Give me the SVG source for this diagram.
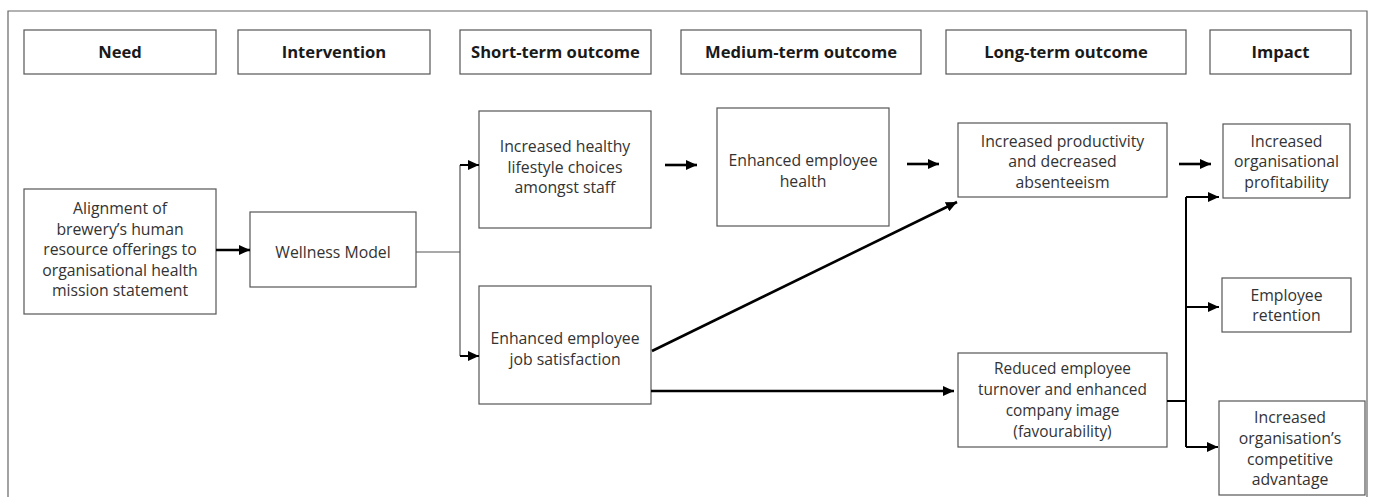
<svg xmlns="http://www.w3.org/2000/svg" width="1375" height="497" viewBox="0 0 1375 497">
<style>
.box{fill:#fff;stroke:#555;stroke-width:1.2}
.hd{font-family:"Open Sans","Liberation Sans",sans-serif;font-weight:bold;font-size:16.6px;fill:#1a1a1a;text-anchor:middle}
.tx{font-family:"Open Sans","Liberation Sans",sans-serif;font-size:15.8px;fill:#333;text-anchor:middle}
.cn{font-size:15.4px}
.thin{fill:none;stroke:#555;stroke-width:1.2}
.thick{fill:none;stroke:#000;stroke-width:2.6}
.mid{fill:none;stroke:#000;stroke-width:2}
</style>
<defs>
<marker id="ah" markerUnits="userSpaceOnUse" markerWidth="12" markerHeight="10" refX="11" refY="5" orient="auto">
<path d="M0,0 L11,5 L0,10 Z" fill="#000"/>
</marker>
</defs>
<rect width="1375" height="497" fill="#fff"/>
<path d="M8,497 V11 H1367 V497" fill="none" stroke="#666" stroke-width="1.2"/>
<g id="h-need"><rect class="box" x="24" y="30" width="192" height="44"/><text class="hd" x="120" y="58">Need</text></g>
<g id="h-intervention"><rect class="box" x="238" y="30" width="192" height="44"/><text class="hd" x="334" y="58">Intervention</text></g>
<g id="h-short"><rect class="box" x="460" y="30" width="191" height="44"/><text class="hd" x="555.5" y="58">Short-term outcome</text></g>
<g id="h-medium"><rect class="box" x="681" y="30" width="240" height="44"/><text class="hd" x="801" y="58">Medium-term outcome</text></g>
<g id="h-long"><rect class="box" x="946" y="30" width="240" height="44"/><text class="hd" x="1066" y="58">Long-term outcome</text></g>
<g id="h-impact"><rect class="box" x="1210" y="30" width="141" height="44"/><text class="hd" x="1280.5" y="58">Impact</text></g>

<g id="n-alignment"><rect class="box" x="24" y="189" width="192" height="125"/>
<text class="tx" x="120" y="214">Alignment of</text>
<text class="tx" x="120" y="234.5">brewery’s human</text>
<text class="tx" x="120" y="255">resource offerings to</text>
<text class="tx" x="120" y="275.5">organisational health</text>
<text class="tx" x="120" y="296">mission statement</text></g>
<g id="n-wellness"><rect class="box" x="250" y="212" width="166" height="75"/>
<text class="tx" x="333" y="258">Wellness Model</text></g>
<g id="n-lifestyle"><rect class="box" x="479" y="111" width="172" height="117"/>
<text class="tx" x="565" y="152">Increased healthy</text>
<text class="tx" x="565" y="172.5">lifestyle choices</text>
<text class="tx" x="565" y="193">amongst staff</text></g>
<g id="n-satisfaction"><rect class="box" x="479" y="286" width="172" height="118"/>
<text class="tx" x="565" y="344">Enhanced employee</text>
<text class="tx" x="565" y="364.5">job satisfaction</text></g>
<g id="n-health"><rect class="box" x="717" y="108" width="172" height="118"/>
<text class="tx" x="803" y="166">Enhanced employee</text>
<text class="tx" x="803" y="186.5">health</text></g>
<g id="n-productivity"><rect class="box" x="958" y="123" width="209" height="74"/>
<text class="tx" x="1062.5" y="146.5">Increased productivity</text>
<text class="tx" x="1062.5" y="167">and decreased</text>
<text class="tx" x="1062.5" y="187.5">absenteeism</text></g>
<g id="n-turnover"><rect class="box" x="958" y="353" width="209" height="94"/>
<text class="tx cn" x="1062.5" y="374">Reduced employee</text>
<text class="tx cn" x="1062.5" y="395">turnover and enhanced</text>
<text class="tx cn" x="1062.5" y="416">company image</text>
<text class="tx cn" x="1062.5" y="437">(favourability)</text></g>
<g id="n-profitability"><rect class="box" x="1223" y="124" width="127" height="74"/>
<text class="tx" x="1286.5" y="146.5">Increased</text>
<text class="tx" x="1286.5" y="167">organisational</text>
<text class="tx" x="1286.5" y="187.5">profitability</text></g>
<g id="n-retention"><rect class="box" x="1222" y="278" width="129" height="54"/>
<text class="tx" x="1286.5" y="300.5">Employee</text>
<text class="tx" x="1286.5" y="321">retention</text></g>
<g id="n-competitive"><rect class="box" x="1219" y="401" width="146" height="94"/>
<text class="tx" x="1290" y="422.5">Increased</text>
<text class="tx" x="1290" y="443.5">organisation’s</text>
<text class="tx" x="1290" y="464.5">competitive</text>
<text class="tx" x="1290" y="485">advantage</text></g>

<g id="connectors">
<line class="thick" x1="216" y1="250" x2="250" y2="250" marker-end="url(#ah)"/>
<path class="thin" d="M416,252 H460 M460,165 V356"/>
<line class="mid" x1="460" y1="165" x2="479" y2="165" marker-end="url(#ah)"/>
<line class="mid" x1="460" y1="356" x2="479" y2="356" marker-end="url(#ah)"/>
<line class="thick" x1="665" y1="165" x2="697" y2="165" marker-end="url(#ah)"/>
<line class="thick" x1="907" y1="164" x2="939" y2="164" marker-end="url(#ah)"/>
<line class="thick" x1="1179" y1="164" x2="1211" y2="164" marker-end="url(#ah)"/>
<line class="thick" x1="652" y1="351" x2="957" y2="202" marker-end="url(#ah)"/>
<line class="thick" x1="651" y1="391" x2="954" y2="391" marker-end="url(#ah)"/>
<path class="mid" d="M1167,401 H1186 M1186,197 V447"/>
<line class="mid" x1="1186" y1="197" x2="1219" y2="197" marker-end="url(#ah)"/>
<line class="mid" x1="1186" y1="307" x2="1219" y2="307" marker-end="url(#ah)"/>
<line class="mid" x1="1186" y1="447" x2="1218" y2="447" marker-end="url(#ah)"/>
</g>
</svg>
